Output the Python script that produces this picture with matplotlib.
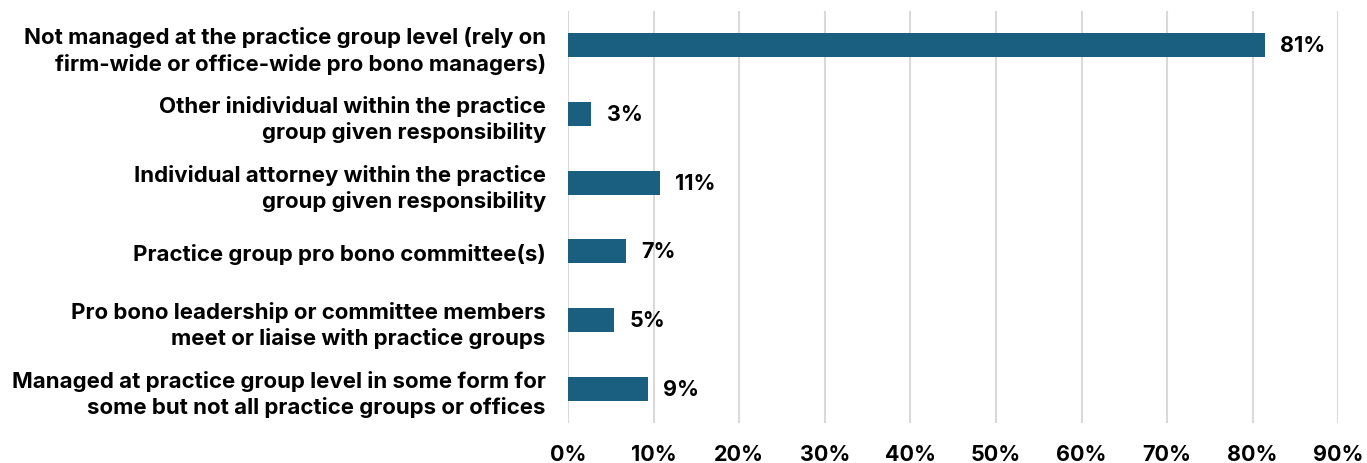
import matplotlib.pyplot as plt
from matplotlib.ticker import FuncFormatter

categories = [
    'Not managed at the practice group level (rely on\nfirm-wide or office-wide pro bono managers)',
    'Other inidividual within the practice\ngroup given responsibility',
    'Individual attorney within the practice\ngroup given responsibility',
    'Practice group pro bono committee(s)',
    'Pro bono leadership or committee members\nmeet or liaise with practice groups',
    'Managed at practice group level in some form for\nsome but not all practice groups or offices',
]
values = [81.4, 2.7, 10.7, 6.8, 5.4, 9.3]
xticks = [0, 10, 20, 30, 40, 50, 60, 70, 80, 90]

plt.rcParams['font.family'] = ['Inter', 'DejaVu Sans']
plt.rcParams['font.weight'] = 'bold'

fig = plt.figure(figsize=(13.67, 4.64), dpi=100)
ax = fig.add_axes([0.4155, 0.086, 0.5635, 0.888])

pos = list(range(len(categories)))
ax.barh(pos, values, height=0.35, color='#1a5f80', zorder=3)

for y, v in zip(pos, values):
    ax.text(v + 1.8, y, f'{v:.0f}%', va='center', ha='left',
            fontsize=15.5, fontweight='bold', color='black')

ax.set_xlim(0, 90)
ax.set_ylim(len(categories) - 0.5, -0.5)
ax.set_xticks(xticks)
ax.xaxis.set_major_formatter(FuncFormatter(lambda x, p: f'{x:.0f}%'))
ax.set_yticks(pos)
ax.set_yticklabels(categories, fontsize=16, fontweight='bold', linespacing=1.3)
ax.tick_params(axis='y', length=0, pad=16)
ax.tick_params(axis='x', length=0, pad=15, labelsize=15.5)
for lab in ax.get_xticklabels():
    lab.set_fontweight('bold')

ax.grid(axis='x', color='#d9d9d9', linewidth=1.5, zorder=0)
for s in ax.spines.values():
    s.set_visible(False)

fig.savefig('out.png', dpi=100)
